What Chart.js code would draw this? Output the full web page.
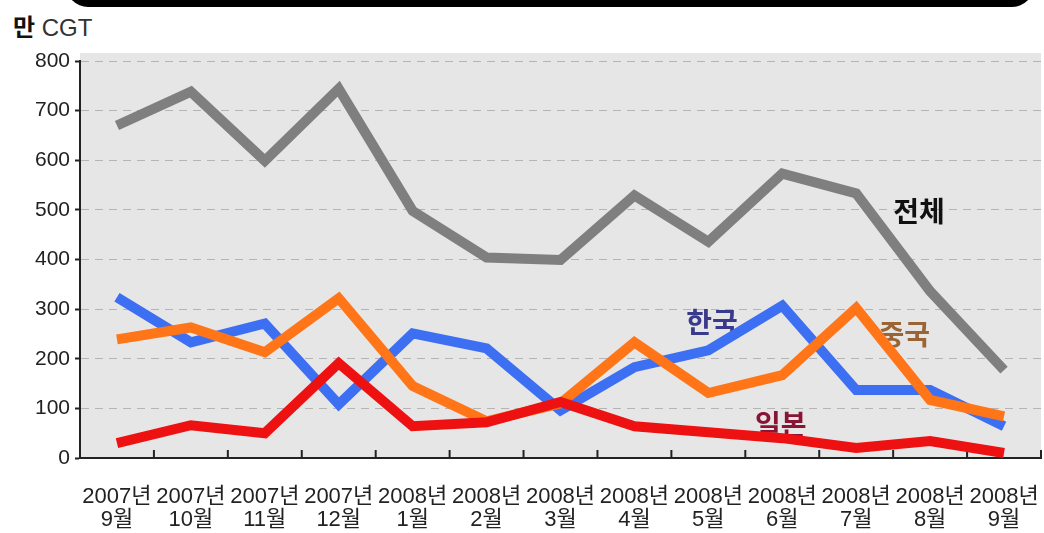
<!DOCTYPE html>
<html>
<head>
<meta charset="utf-8">
<script src="https://cdn.jsdelivr.net/npm/chart.js@4/dist/chart.umd.min.js"></script>
<style>
    html, body { margin: 0; padding: 0; background: #fff; }
    #wrap { position: relative; width: 1044px; height: 533px; overflow: hidden; }
    #topBar { position: absolute; left: 66px; top: -20px; width: 968px; height: 27px; background: #000; border-radius: 0 0 22px 22px; }
    #unit { position: absolute; left: 13px; top: 8px; font-family: "Liberation Sans", "Noto Sans CJK KR", sans-serif; font-size: 24px; color: #333; }
    #unit b { font-family: "Noto Sans CJK KR", sans-serif; color: #111; }
    canvas { position: absolute; left: 0; top: 0; }
</style>
</head>
<body>
<div id="wrap">
    <div id="topBar"></div>
    <div id="unit"><b>만</b> CGT</div>
    <canvas id="shipChart" width="1044" height="533"></canvas>
</div>
<script>
// 월별 수주량 (만 CGT)
const months = [
    ['2007년', '9월'], ['2007년', '10월'], ['2007년', '11월'], ['2007년', '12월'],
    ['2008년', '1월'], ['2008년', '2월'], ['2008년', '3월'], ['2008년', '4월'],
    ['2008년', '5월'], ['2008년', '6월'], ['2008년', '7월'], ['2008년', '8월'], ['2008년', '9월']
];
const totalValues = [670, 738, 599, 744, 498, 404, 399, 529, 436, 573, 533, 336, 177];
const koreaValues = [324, 233, 271, 108, 251, 221, 96, 183, 217, 307, 137, 137, 64];
const chinaValues = [239, 263, 213, 322, 145, 74, 110, 233, 131, 167, 302, 117, 84];
const japanValues = [30, 66, 50, 191, 64, 72, 113, 64, 52, 40, 20, 34, 10];
const yTicks = [0, 100, 200, 300, 400, 500, 600, 700, 800];

// series name labels inside the plot (category index, value)
const seriesLabels = [
    { text: '전체', color: '#111111', at: [10.85, 498] },
    { text: '한국', color: '#3a3a8c', at: [8.05, 274] },
    { text: '중국', color: '#9a6433', at: [10.65, 250] },
    { text: '일본', color: '#8a1436', at: [8.98, 67] }
];

const plotBackground = {
    id: 'plotBackground',
    beforeDraw(chart) {
        const { ctx, chartArea } = chart;
        ctx.save();
        ctx.fillStyle = '#e6e6e6';
        ctx.fillRect(chartArea.left, chartArea.top - 8, chartArea.right - chartArea.left, chartArea.bottom - chartArea.top + 8);
        ctx.restore();
    },
    beforeDatasetsDraw(chart) {
        const { ctx, scales } = chart;
        const x = scales.x;
        ctx.save();
        // 안쪽으로 향한 x축 눈금
        ctx.strokeStyle = '#222';
        ctx.lineWidth = 2;
        for (let i = 0; i <= months.length; i++) {
            const px = (x.getPixelForValue(i - 1) + x.getPixelForValue(i)) / 2;
            ctx.beginPath();
            ctx.moveTo(px, x.top);
            ctx.lineTo(px, x.top - 8);
            ctx.stroke();
        }
        ctx.font = 'bold 28px "Noto Sans CJK KR", sans-serif';
        ctx.textAlign = 'center';
        ctx.textBaseline = 'middle';
        seriesLabels.forEach(label => {
            ctx.fillStyle = label.color;
            ctx.fillText(label.text, x.getPixelForValue(label.at[0]), scales.y.getPixelForValue(label.at[1]));
        });
        ctx.restore();
    }
};

function lineSet(label, data, color, order) {
    return {
        label: label,
        data: data,
        borderColor: color,
        backgroundColor: color,
        borderWidth: 10,
        pointRadius: 0,
        borderJoinStyle: 'miter',
        tension: 0,
        order: order
    };
}

const context = document.getElementById('shipChart').getContext('2d');

new Chart(context, {
    type: 'line',
    data: {
        labels: months,
        datasets: [
            lineSet('전체', totalValues, '#7f7f7f', 4),
            lineSet('한국', koreaValues, '#3d6ff2', 3),
            lineSet('중국', chinaValues, '#ff7517', 2),
            lineSet('일본', japanValues, '#ee1111', 1)
        ]
    },
    options: {
        responsive: false,
        animation: false,
        layout: { padding: { top: 61, right: 3, left: 0, bottom: 0 } },
        plugins: {
            legend: { display: false },
            tooltip: { enabled: false }
        },
        scales: {
            x: {
                offset: true,
                afterFit: scale => {
                    scale.height = 75;
                    scale.paddingLeft = 0;
                    scale.paddingRight = 0;
                },
                border: { color: '#222', width: 2 },
                grid: { display: false, drawTicks: false },
                ticks: {
                    autoSkip: false,
                    maxRotation: 0,
                    padding: 28,
                    color: '#222',
                    font: { family: '"Liberation Sans", "Noto Sans CJK KR", sans-serif', size: 22, lineHeight: 1.02 }
                }
            },
            y: {
                min: 0,
                max: 800,
                afterFit: scale => { scale.width = 80; },
                afterBuildTicks: scale => { scale.ticks = yTicks.map(v => ({ value: v })); },
                border: { color: '#222', width: 2, dash: [8, 6] },
                grid: {
                    color: '#b4b4b4',
                    lineWidth: 1,
                    tickColor: '#222',
                    tickWidth: 2,
                    tickLength: 5,
                    tickBorderDash: [100, 0]
                },
                ticks: {
                    padding: 5,
                    color: '#222',
                    font: { family: '"Liberation Sans", sans-serif', size: 21 }
                }
            }
        }
    },
    plugins: [plotBackground]
});
</script>
</body>
</html>
